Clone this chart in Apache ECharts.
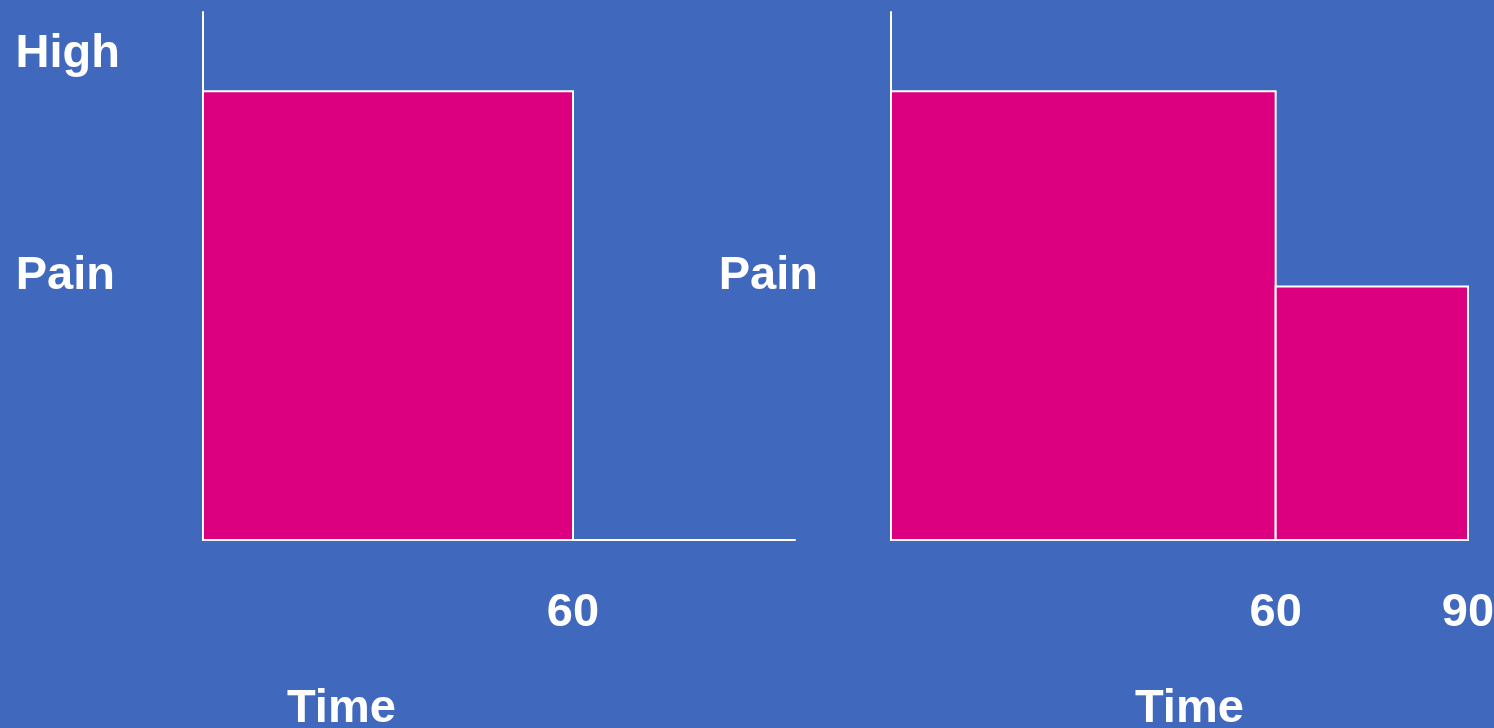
<!DOCTYPE html>
<html>
<head>
<meta charset="utf-8">
<title>Pain over time</title>
<script src="https://cdn.jsdelivr.net/npm/echarts@6/dist/echarts.min.js"></script>
<style>
  html, body { margin: 0; padding: 0; background: #4069BE; }
  #chart { width: 1494px; height: 728px; }
</style>
</head>
<body>
<div id="chart"></div>
<script>
// Each block: [start minute, end minute, pain level]
const leftBlocks = [[0, 60, 85]];
const rightBlocks = [[0, 60, 85], [60, 90, 48]];
// Tick labels on the time axes
const leftTimeTicks = [60];
const rightTimeTicks = [60, 90];
// Pain axis marker
const painTickValue = 92;
const painTickLabel = 'High';
const axisNames = { y: 'Pain', x: 'Time' };

const FONT = "'Liberation Sans', Arial, Helvetica, sans-serif";
const WHITE = '#ffffff';
const MAGENTA = '#DC0080';

const chart = echarts.init(document.getElementById('chart'), null, { renderer: 'canvas' });

function blockItem(params, api) {
  const p0 = api.coord([api.value(0), 0]);
  const p1 = api.coord([api.value(1), api.value(2)]);
  return {
    type: 'rect',
    shape: { x: p0[0], y: p1[1], width: p1[0] - p0[0], height: p0[1] - p1[1] },
    style: { fill: MAGENTA, stroke: WHITE, lineWidth: 2 }
  };
}

const bigText = { color: WHITE, fontFamily: FONT, fontWeight: 'bold', fontSize: 47 };

function timeAxis(gridIndex, max, ticks) {
  return {
    type: 'value', gridIndex, min: 0, max,
    axisLine: { show: true, onZero: false, lineStyle: { color: WHITE, width: 2 } },
    axisTick: { show: false },
    splitLine: { show: false },
    axisLabel: Object.assign({
      customValues: ticks, margin: 50, hideOverlap: false,
      showMinLabel: true, showMaxLabel: true
    }, bigText)
  };
}

function painAxis(gridIndex, gap, withMarker) {
  return {
    type: 'value', gridIndex, min: 0, max: 100,
    name: axisNames.y, nameLocation: 'middle', nameRotate: 0, nameGap: gap,
    nameMoveOverlap: false,
    nameTextStyle: Object.assign({ padding: [4, 0, 0, 0] }, bigText),
    axisLine: { show: true, lineStyle: { color: WHITE, width: 2 } },
    axisTick: { show: false },
    splitLine: { show: false },
    axisLabel: Object.assign({
      show: withMarker,
      customValues: withMarker ? [painTickValue] : [],
      formatter: () => painTickLabel,
      margin: 83
    }, bigText)
  };
}

chart.setOption({
  backgroundColor: '#4069BE',
  animation: false,
  grid: [
    { left: 203, right: 699, top: 12, bottom: 188, outerBoundsMode: 'none', containLabel: false },
    { left: 891, right: 26, top: 12, bottom: 188, outerBoundsMode: 'none', containLabel: false }
  ],
  xAxis: [
    timeAxis(0, 96, leftTimeTicks),
    timeAxis(1, 90, rightTimeTicks)
  ],
  yAxis: [
    painAxis(0, 88, true),
    painAxis(1, 73, false)
  ],
  series: [
    { type: 'custom', xAxisIndex: 0, yAxisIndex: 0, renderItem: blockItem,
      encode: { x: [0, 1], y: 2 }, data: leftBlocks, clip: false },
    { type: 'custom', xAxisIndex: 1, yAxisIndex: 1, renderItem: blockItem,
      encode: { x: [0, 1], y: 2 }, data: rightBlocks, clip: false }
  ],
  graphic: [
    { type: 'text', left: 287, top: 686, style: { text: axisNames.x, fill: WHITE, font: 'bold 47px ' + FONT } },
    { type: 'text', left: 1135, top: 686, style: { text: axisNames.x, fill: WHITE, font: 'bold 47px ' + FONT } }
  ]
});
</script>
</body>
</html>
